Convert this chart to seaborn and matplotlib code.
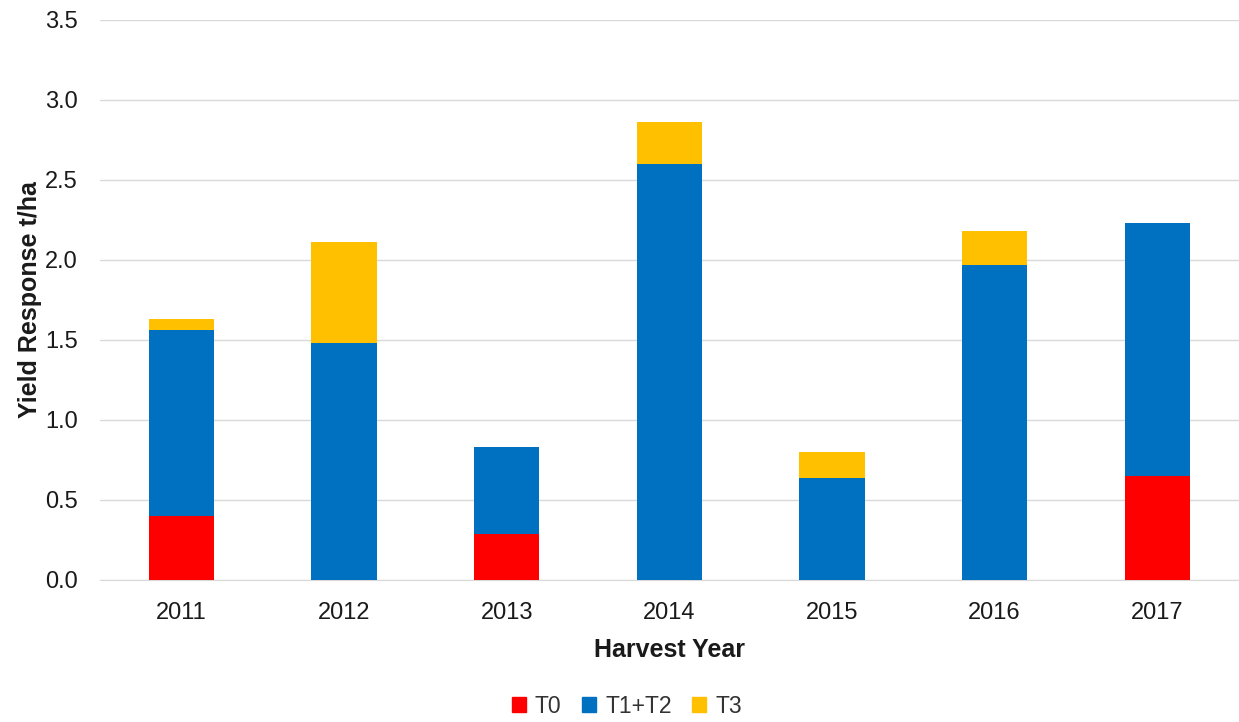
import pandas as pd
import matplotlib.pyplot as plt
import seaborn as sns
from matplotlib.patches import Patch

# Values (t/ha)
years = ['2011', '2012', '2013', '2014', '2015', '2016', '2017']
t0 = [0.40, 0.00, 0.29, 0.00, 0.00, 0.00, 0.65]
t1_t2 = [1.16, 1.48, 0.54, 2.60, 0.64, 1.97, 1.58]
t3 = [0.07, 0.63, 0.00, 0.26, 0.16, 0.21, 0.00]

colors = {'T0': '#FF0000', 'T1+T2': '#0070C0', 'T3': '#FFC000'}

df = pd.DataFrame({'year': years, 'T0': t0, 'T1+T2': t1_t2, 'T3': t3})
df['lvl2'] = df['T0'] + df['T1+T2']
df['lvl3'] = df['lvl2'] + df['T3']

sns.set_style('white')
plt.rcParams['font.family'] = ['Liberation Sans', 'DejaVu Sans']

fig = plt.figure(figsize=(12.39, 7.22), dpi=100)
ax = fig.add_axes([0.0807, 0.1967, 0.919, 0.7756])

# stacked bars: draw cumulative heights back to front
sns.barplot(data=df, x='year', y='lvl3', color=colors['T3'], width=0.4,
            saturation=1, ax=ax, zorder=2, linewidth=0)
sns.barplot(data=df, x='year', y='lvl2', color=colors['T1+T2'], width=0.4,
            saturation=1, ax=ax, zorder=3, linewidth=0)
sns.barplot(data=df, x='year', y='T0', color=colors['T0'], width=0.4,
            saturation=1, ax=ax, zorder=4, linewidth=0)

ax.set_ylim(0, 3.5)
ax.set_yticks([i * 0.5 for i in range(8)])
ax.set_yticklabels([f'{i * 0.5:.1f}' for i in range(8)])
ax.set_xlim(-0.5, 6.5)
ax.yaxis.grid(True, color='#D9D9D9', linewidth=1, zorder=0)
ax.set_axisbelow(True)
for s in ['top', 'right', 'left']:
    ax.spines[s].set_visible(False)
ax.spines['bottom'].set_color('#D9D9D9')
ax.tick_params(axis='both', length=0, labelsize=17, colors='#1a1a1a')
ax.tick_params(axis='y', pad=16)
ax.tick_params(axis='x', pad=16)

ax.set_xlabel('Harvest Year', fontsize=18, fontweight='bold', labelpad=10,
              color='#1a1a1a')
ax.set_ylabel('Yield Response t/ha', fontsize=18, fontweight='bold', labelpad=2,
              color='#1a1a1a')

handles = [Patch(color=c, label=k) for k, c in colors.items()]
fig.legend(handles=handles, loc='center', bbox_to_anchor=(0.506, 0.022), ncol=3,
           frameon=False, fontsize=16.5, handlelength=0.6, handleheight=0.6,
           handletextpad=0.4, columnspacing=0.9, labelcolor='#333333')

fig.savefig('out.png', dpi=100)
